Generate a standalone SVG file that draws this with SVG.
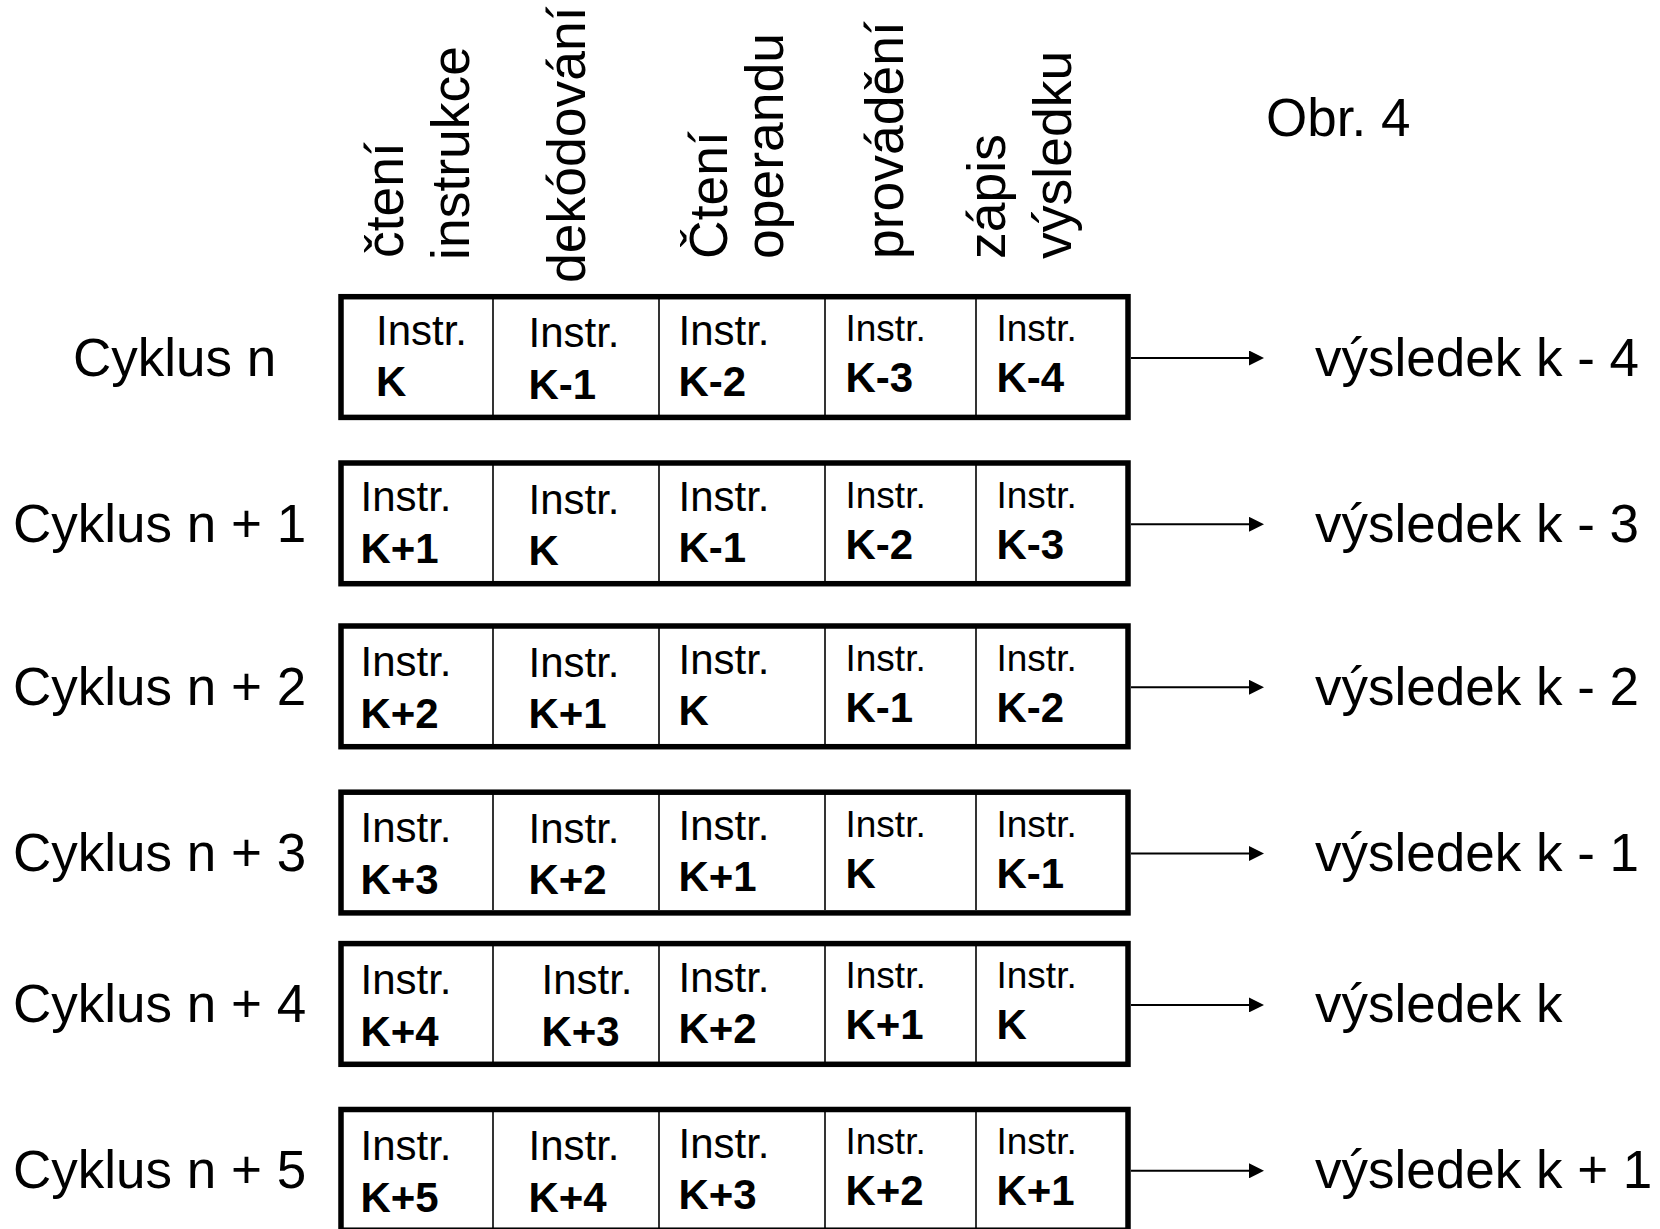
<svg xmlns="http://www.w3.org/2000/svg" width="1660" height="1229" viewBox="0 0 1660 1229">
<style>
.lbl{font-family:"Liberation Sans",Arial,sans-serif;font-size:53px;fill:#000}
.hdr{font-family:"Liberation Sans",Arial,sans-serif;font-size:53.5px;fill:#000}
.ins{font-family:"Liberation Sans",Arial,sans-serif;font-size:42px;fill:#000}
.ins.s{font-size:37px}
.k{font-family:"Liberation Sans",Arial,sans-serif;font-size:42px;font-weight:bold;fill:#000}
.box{fill:#fff;stroke:#000;stroke-width:5.5}
.div{stroke:#000;stroke-width:1.6}
.conn{stroke:#000;stroke-width:2;fill:none}
</style>
<defs>
<marker id="ah" viewBox="0 0 15 15" refX="0" refY="7.5" markerWidth="15" markerHeight="15" markerUnits="userSpaceOnUse" orient="auto">
<path d="M0,0 L15,7.5 L0,15 Z" fill="#000"/>
</marker>
</defs>
<rect width="1660" height="1229" fill="#fff"/>

<g id="headers">
<text class="hdr" transform="translate(402.5,258) rotate(-90)">čtení</text>
<text class="hdr" transform="translate(469,260) rotate(-90)">instrukce</text>
<text class="hdr" transform="translate(584.5,283) rotate(-90)">dekódování</text>
<text class="hdr" transform="translate(726.5,259) rotate(-90)">Čtení</text>
<text class="hdr" transform="translate(782.5,259) rotate(-90)">operandu</text>
<text class="hdr" transform="translate(902.5,259) rotate(-90)">provádění</text>
<text class="hdr" transform="translate(1004.5,259) rotate(-90)">zápis</text>
<text class="hdr" transform="translate(1070.5,259) rotate(-90)">výsledku</text>
</g>
<g id="obr"><text class="lbl" x="1266" y="135.5">Obr. 4</text></g>

<g id="row1">
<text class="lbl" x="73" y="375.5">Cyklus n</text>
<rect class="box" x="341" y="296.7" width="787" height="120.7"/>
<line class="div" x1="493" y1="299" x2="493" y2="415"/>
<line class="div" x1="659" y1="299" x2="659" y2="415"/>
<line class="div" x1="825" y1="299" x2="825" y2="415"/>
<line class="div" x1="976" y1="299" x2="976" y2="415"/>
<text class="ins" x="376" y="344.7">Instr.</text><text class="k" x="376" y="396.2">K</text>
<text class="ins" x="528.5" y="347.2">Instr.</text><text class="k" x="528.5" y="398.7">K-1</text>
<text class="ins" x="678.5" y="344.7">Instr.</text><text class="k" x="678.5" y="395.7">K-2</text>
<text class="ins s" x="845.5" y="341.2">Instr.</text><text class="k" x="845.5" y="392.2">K-3</text>
<text class="ins s" x="996.5" y="341.2">Instr.</text><text class="k" x="996.5" y="392.2">K-4</text>
<text class="lbl" x="1315" y="375.5">výsledek k - 4</text>
</g>

<g id="row2">
<text class="lbl" x="13" y="541.8">Cyklus n + 1</text>
<rect class="box" x="341" y="463" width="787" height="120.7"/>
<line class="div" x1="493" y1="465" x2="493" y2="581"/>
<line class="div" x1="659" y1="465" x2="659" y2="581"/>
<line class="div" x1="825" y1="465" x2="825" y2="581"/>
<line class="div" x1="976" y1="465" x2="976" y2="581"/>
<text class="ins" x="360.5" y="511">Instr.</text><text class="k" x="360.5" y="562.5">K+1</text>
<text class="ins" x="528.5" y="513.5">Instr.</text><text class="k" x="528.5" y="565">K</text>
<text class="ins" x="678.5" y="511">Instr.</text><text class="k" x="678.5" y="562">K-1</text>
<text class="ins s" x="845.5" y="507.5">Instr.</text><text class="k" x="845.5" y="558.5">K-2</text>
<text class="ins s" x="996.5" y="507.5">Instr.</text><text class="k" x="996.5" y="558.5">K-3</text>
<text class="lbl" x="1315" y="541.8">výsledek k - 3</text>
</g>

<g id="row3">
<text class="lbl" x="13" y="704.8">Cyklus n + 2</text>
<rect class="box" x="341" y="626" width="787" height="120.7"/>
<line class="div" x1="493" y1="628" x2="493" y2="744"/>
<line class="div" x1="659" y1="628" x2="659" y2="744"/>
<line class="div" x1="825" y1="628" x2="825" y2="744"/>
<line class="div" x1="976" y1="628" x2="976" y2="744"/>
<text class="ins" x="360.5" y="676">Instr.</text><text class="k" x="360.5" y="728">K+2</text>
<text class="ins" x="528.5" y="676.5">Instr.</text><text class="k" x="528.5" y="728">K+1</text>
<text class="ins" x="678.5" y="674">Instr.</text><text class="k" x="678.5" y="725">K</text>
<text class="ins s" x="845.5" y="670.5">Instr.</text><text class="k" x="845.5" y="721.5">K-1</text>
<text class="ins s" x="996.5" y="670.5">Instr.</text><text class="k" x="996.5" y="721.5">K-2</text>
<text class="lbl" x="1315" y="704.8">výsledek k - 2</text>
</g>

<g id="row4">
<text class="lbl" x="13" y="871">Cyklus n + 3</text>
<rect class="box" x="341" y="792.2" width="787" height="120.7"/>
<line class="div" x1="493" y1="794" x2="493" y2="910"/>
<line class="div" x1="659" y1="794" x2="659" y2="910"/>
<line class="div" x1="825" y1="794" x2="825" y2="910"/>
<line class="div" x1="976" y1="794" x2="976" y2="910"/>
<text class="ins" x="360.5" y="842.2">Instr.</text><text class="k" x="360.5" y="894.2">K+3</text>
<text class="ins" x="528.5" y="842.7">Instr.</text><text class="k" x="528.5" y="894.2">K+2</text>
<text class="ins" x="678.5" y="840.2">Instr.</text><text class="k" x="678.5" y="891.2">K+1</text>
<text class="ins s" x="845.5" y="836.7">Instr.</text><text class="k" x="845.5" y="887.7">K</text>
<text class="ins s" x="996.5" y="836.7">Instr.</text><text class="k" x="996.5" y="887.7">K-1</text>
<text class="lbl" x="1315" y="871">výsledek k - 1</text>
</g>

<g id="row5">
<text class="lbl" x="13" y="1022.4">Cyklus n + 4</text>
<rect class="box" x="341" y="943.6" width="787" height="120.7"/>
<line class="div" x1="493" y1="946" x2="493" y2="1062"/>
<line class="div" x1="659" y1="946" x2="659" y2="1062"/>
<line class="div" x1="825" y1="946" x2="825" y2="1062"/>
<line class="div" x1="976" y1="946" x2="976" y2="1062"/>
<text class="ins" x="360.5" y="993.6">Instr.</text><text class="k" x="360.5" y="1045.6">K+4</text>
<text class="ins" x="541.5" y="994.1">Instr.</text><text class="k" x="541.5" y="1045.6">K+3</text>
<text class="ins" x="678.5" y="991.6">Instr.</text><text class="k" x="678.5" y="1042.6">K+2</text>
<text class="ins s" x="845.5" y="988.1">Instr.</text><text class="k" x="845.5" y="1039.1">K+1</text>
<text class="ins s" x="996.5" y="988.1">Instr.</text><text class="k" x="996.5" y="1039.1">K</text>
<text class="lbl" x="1315" y="1022.4">výsledek k</text>
</g>

<g id="row6">
<text class="lbl" x="13" y="1188.3">Cyklus n + 5</text>
<rect class="box" x="341" y="1109.5" width="787" height="120.7"/>
<line class="div" x1="493" y1="1112" x2="493" y2="1229"/>
<line class="div" x1="659" y1="1112" x2="659" y2="1229"/>
<line class="div" x1="825" y1="1112" x2="825" y2="1229"/>
<line class="div" x1="976" y1="1112" x2="976" y2="1229"/>
<text class="ins" x="360.5" y="1159.5">Instr.</text><text class="k" x="360.5" y="1211.5">K+5</text>
<text class="ins" x="528.5" y="1160">Instr.</text><text class="k" x="528.5" y="1211.5">K+4</text>
<text class="ins" x="678.5" y="1157.5">Instr.</text><text class="k" x="678.5" y="1208.5">K+3</text>
<text class="ins s" x="845.5" y="1154">Instr.</text><text class="k" x="845.5" y="1205">K+2</text>
<text class="ins s" x="996.5" y="1154">Instr.</text><text class="k" x="996.5" y="1205">K+1</text>
<text class="lbl" x="1315" y="1188.3">výsledek k + 1</text>
</g>

<g id="connectors">
<line class="conn" x1="1131" y1="358" x2="1249" y2="358" marker-end="url(#ah)"/>
<line class="conn" x1="1131" y1="524.3" x2="1249" y2="524.3" marker-end="url(#ah)"/>
<line class="conn" x1="1131" y1="687.3" x2="1249" y2="687.3" marker-end="url(#ah)"/>
<line class="conn" x1="1131" y1="853.5" x2="1249" y2="853.5" marker-end="url(#ah)"/>
<line class="conn" x1="1131" y1="1004.9" x2="1249" y2="1004.9" marker-end="url(#ah)"/>
<line class="conn" x1="1131" y1="1170.8" x2="1249" y2="1170.8" marker-end="url(#ah)"/>
</g>
</svg>
